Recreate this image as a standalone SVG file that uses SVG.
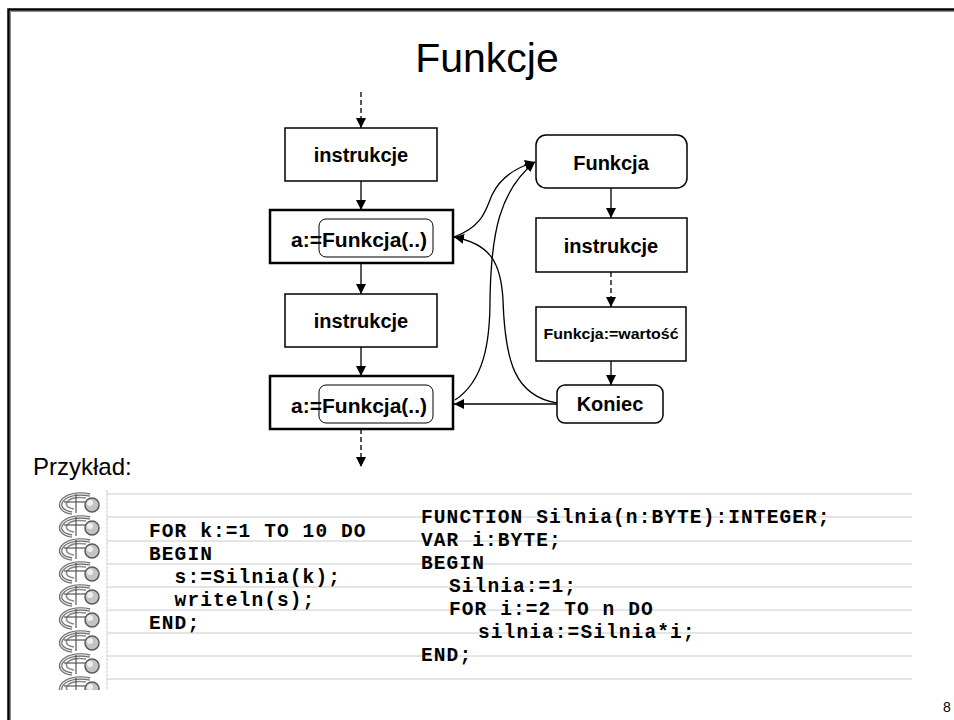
<svg xmlns="http://www.w3.org/2000/svg" xmlns:xlink="http://www.w3.org/1999/xlink" width="954" height="720" viewBox="0 0 954 720">
  <style>
    .box { fill: #fff; stroke: #000; stroke-width: 1.5; }
    .call { fill: #fff; stroke: #000; stroke-width: 2.5; }
    .inner { fill: none; stroke: #000; stroke-width: 1; }
    .lbl { font-family: "Liberation Sans", Arial, sans-serif; font-weight: bold; fill: #000; text-anchor: middle; }
    .lbl-l { font-family: "Liberation Sans", Arial, sans-serif; font-weight: bold; fill: #000; font-size: 21px; }
    .edge { fill: none; stroke: #000; stroke-width: 1.3; marker-end: url(#arr); }
    .dash { stroke-dasharray: 5 3; }
    .code { font-family: "Liberation Mono", "Courier New", monospace; font-weight: bold; font-size: 19.5px; letter-spacing: 1.1px; fill: #000; white-space: pre; }
    .rule { stroke: #dcdcdc; stroke-width: 1.5; }
  </style>
  <defs>
    <marker id="arr" viewBox="0 0 10 10" refX="10" refY="5" markerWidth="10" markerHeight="10" markerUnits="userSpaceOnUse" orient="auto">
      <path d="M0,0 L10,5 L0,10 z" fill="#000"/>
    </marker>
    <!-- one coil of the notebook binding -->
    <g id="ring">
      <path d="M90,3 C62,-3 50,18 72,21" fill="none" stroke="#6e6e6e" stroke-width="3.5"/>
      <path d="M90,3 C62,-3 50,18 72,21" fill="none" stroke="#e2e2e2" stroke-width="1.2"/>
      <path d="M86,6 C66,3 60,15 74,17" fill="none" stroke="#8a8a8a" stroke-width="1.5"/>
      <line x1="64" y1="10" x2="88" y2="10" stroke="#555" stroke-width="1.2"/>
      <line x1="76" y1="2" x2="76" y2="21" stroke="#555" stroke-width="1.2"/>
      <circle cx="92" cy="13" r="7" fill="#c4c4c4" stroke="#5a5a5a" stroke-width="1.5"/>
      <circle cx="90" cy="11" r="3" fill="#eee"/>
    </g>
    <clipPath id="bindClip"><rect x="40" y="485" width="80" height="205"/></clipPath>
  </defs>

  <rect width="954" height="720" fill="#fff"/>
  <!-- slide frame (top and left edges) -->
  <path d="M8.5,720 V9.5 H954" fill="none" stroke="#000" stroke-width="2.5"/>
  <path d="M10.5,720 V11.5 H954" fill="none" stroke="#888" stroke-width="1"/>

  <text x="487" y="72" font-family="Liberation Sans, Arial, sans-serif" font-size="41" text-anchor="middle">Funkcje</text>

  <!-- main program column -->
  <g id="instr1">
    <rect class="box" x="285" y="128" width="152" height="53"/>
    <text class="lbl" x="361" y="162" font-size="20">instrukcje</text>
  </g>
  <g id="call1">
    <rect class="call" x="270" y="210" width="183" height="53"/>
    <rect class="inner" x="319" y="219" width="114" height="38" rx="7"/>
    <text class="lbl-l" x="291" y="247">a:=</text>
    <text class="lbl-l" x="322" y="247">Funkcja(..)</text>
  </g>
  <g id="instr2">
    <rect class="box" x="285" y="294" width="152" height="53"/>
    <text class="lbl" x="361" y="328" font-size="20">instrukcje</text>
  </g>
  <g id="call2">
    <rect class="call" x="270" y="376" width="183" height="53"/>
    <rect class="inner" x="319" y="385" width="114" height="38" rx="7"/>
    <text class="lbl-l" x="291" y="413">a:=</text>
    <text class="lbl-l" x="322" y="413">Funkcja(..)</text>
  </g>

  <!-- function column -->
  <g id="func">
    <rect class="box" x="536" y="135" width="151" height="53" rx="10"/>
    <text class="lbl" x="611" y="170" font-size="20">Funkcja</text>
  </g>
  <g id="finstr">
    <rect class="box" x="536" y="218" width="151" height="54"/>
    <text class="lbl" x="611" y="253" font-size="20">instrukcje</text>
  </g>
  <g id="assign">
    <rect class="box" x="536" y="307" width="150" height="54"/>
    <text class="lbl" x="611" y="339" font-size="14" textLength="135" lengthAdjust="spacingAndGlyphs">Funkcja:=wartość</text>
  </g>
  <g id="end">
    <rect class="box" x="557" y="385" width="106" height="38" rx="8"/>
    <text class="lbl" x="610" y="411" font-size="20">Koniec</text>
  </g>

  <g id="connectors">
    <line class="edge dash" x1="361" y1="92" x2="361" y2="128"/>
    <line class="edge" x1="361" y1="181" x2="361" y2="210"/>
    <line class="edge" x1="361" y1="263" x2="361" y2="294"/>
    <line class="edge" x1="361" y1="347" x2="361" y2="376"/>
    <line class="edge dash" x1="361" y1="429" x2="361" y2="467"/>
    <line class="edge" x1="611" y1="188" x2="611" y2="218"/>
    <line class="edge dash" x1="611" y1="272" x2="611" y2="307"/>
    <line class="edge" x1="611" y1="361" x2="611" y2="385"/>
    <!-- calls into the function -->
    <path class="edge" d="M454,237 C484,226 486,208 492,195 C500,178 514,168 535,162"/>
    <path class="edge" d="M455,400 C484,381 490,342 490,300 C491,232 500,190 535,162"/>
    <!-- returns to the caller -->
    <path class="edge" d="M557,403 C515,396 505,362 503,300 C501,262 490,244 454,237"/>
    <line class="edge" x1="557" y1="404" x2="454" y2="404"/>
  </g>

  <text x="33" y="475" font-family="Liberation Sans, Arial, sans-serif" font-size="24">Przykład:</text>

  <!-- notebook page with code -->
  <g id="notebook">
    <g class="rule">
      <line x1="107" y1="494" x2="912" y2="494"/>
      <line x1="107" y1="517" x2="912" y2="517"/>
      <line x1="107" y1="541" x2="912" y2="541"/>
      <line x1="107" y1="564" x2="912" y2="564"/>
      <line x1="107" y1="587" x2="912" y2="587"/>
      <line x1="107" y1="610" x2="912" y2="610"/>
      <line x1="107" y1="633" x2="912" y2="633"/>
      <line x1="107" y1="656" x2="912" y2="656"/>
      <line x1="107" y1="679" x2="912" y2="679"/>
    </g>
    <line x1="107" y1="490" x2="107" y2="690" stroke="#c8c8c8" stroke-width="1" stroke-dasharray="3 1"/>
    <g clip-path="url(#bindClip)">
      <use xlink:href="#ring" y="492"/>
      <use xlink:href="#ring" y="515"/>
      <use xlink:href="#ring" y="538"/>
      <use xlink:href="#ring" y="561"/>
      <use xlink:href="#ring" y="584"/>
      <use xlink:href="#ring" y="607"/>
      <use xlink:href="#ring" y="630"/>
      <use xlink:href="#ring" y="653"/>
      <use xlink:href="#ring" y="676"/>
    </g>
    <text class="code" x="149" y="537">FOR k:=1 TO 10 DO</text>
    <text class="code" x="149" y="560">BEGIN</text>
    <text class="code" x="149" y="583">  s:=Silnia(k);</text>
    <text class="code" x="149" y="606">  writeln(s);</text>
    <text class="code" x="149" y="629">END;</text>

    <text class="code" x="421" y="523">FUNCTION Silnia(n:BYTE):INTEGER;</text>
    <text class="code" x="421" y="546">VAR i:BYTE;</text>
    <text class="code" x="421" y="569">BEGIN</text>
    <text class="code" x="449" y="592">Silnia:=1;</text>
    <text class="code" x="449" y="615">FOR i:=2 TO n DO</text>
    <text class="code" x="478" y="638">silnia:=Silnia*i;</text>
    <text class="code" x="421" y="661">END;</text>
  </g>

  <text x="943" y="712" font-family="Liberation Sans, Arial, sans-serif" font-size="14">8</text>
</svg>
